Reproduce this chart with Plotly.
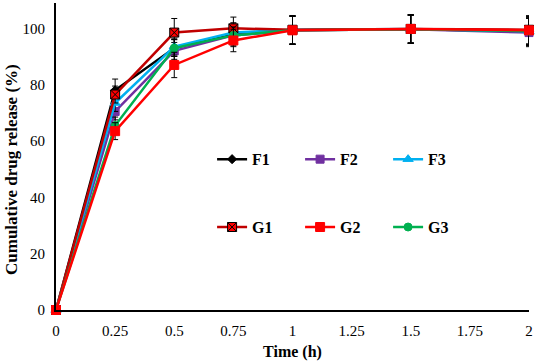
import plotly.graph_objects as go

time_h = [0, 0.25, 0.5, 0.75, 1, 1.5, 2]
series_names = ["F1", "F2", "F3", "G1", "G2", "G3"]
F1 = [0, 78, 93, 98, 99.3, 99.7, 99]
F2 = [0, 70.5, 92, 97.5, 99.3, 99.7, 98.5]
F3 = [0, 73.5, 93.5, 98.5, 99.5, 99.8, 99]
G1 = [0, 76.5, 98.5, 100, 99.5, 99.8, 99.5]
G2 = [0, 63.5, 87, 95.7, 99.3, 99.8, 99.3]
G3 = [0, 65.5, 93, 97.5, 99.3, 99.7, 99]
F1_err = [0, 4, 3, 4, 5, 5, 5]
F2_err = [0, 3, 3, 4, 5, 5, 5]
F3_err = [0, 3, 3, 3, 5, 5, 5]
G1_err = [0, 3, 5, 4, 5, 5, 5]
G2_err = [0, 3, 4.5, 4, 5, 5, 5]
G3_err = [0, 3, 3, 3, 5, 5, 5]

x_ticks = [0, 0.25, 0.5, 0.75, 1, 1.25, 1.5, 1.75, 2]
x_ticklabels = ["0", "0.25", "0.5", "0.75", "1", "1.25", "1.5", "1.75", "2"]
y_ticks = [0, 20, 40, 60, 80, 100]
x_title = "Time (h)"
y_title = "Cumulative drug release (%)"

styles = {
    "F1": dict(color="#000000", symbol="diamond", size=7, lc="#000000", legend="legend", rank=1),
    "F2": dict(color="#7030A0", symbol="square", size=8, lc="#7030A0", legend="legend", rank=2),
    "F3": dict(color="#00B0F0", symbol="triangle-up", size=9, lc="#00B0F0", legend="legend", rank=3),
    "G1": dict(color="#FF0000", symbol="square-x", size=9, lc="#000000", legend="legend2", rank=1),
    "G2": dict(color="#FF0000", symbol="square", size=9, lc="#FF0000", legend="legend2", rank=2),
    "G3": dict(color="#00B050", symbol="circle", size=8, lc="#00B050", legend="legend2", rank=3),
}
line_colors = {"F1": "#000000", "F2": "#7030A0", "F3": "#00B0F0",
               "G1": "#C00000", "G2": "#FF0000", "G3": "#00B050"}
data = {"F1": (F1, F1_err), "F2": (F2, F2_err), "F3": (F3, F3_err),
        "G1": (G1, G1_err), "G2": (G2, G2_err), "G3": (G3, G3_err)}

fig = go.Figure()
for name in ["F1", "F2", "F3", "G1", "G3", "G2"]:
    s = styles[name]
    vals, err = data[name]
    fig.add_trace(go.Scatter(
        x=time_h, y=vals, name="<b>" + name + "</b>", mode="lines+markers",
        line=dict(color=line_colors[name], width=2.5),
        marker=dict(color=s["color"], symbol=s["symbol"], size=s["size"],
                    line=dict(color=s["lc"], width=1)),
        error_y=dict(type="data", array=err, color="#000000", thickness=1, width=3),
        legend=s["legend"], legendrank=s["rank"], cliponaxis=False,
    ))

font_family = "Liberation Serif"
legend_common = dict(orientation="h", xanchor="left", yanchor="middle",
                     bgcolor="rgba(0,0,0,0)", entrywidth=43, entrywidthmode="pixels",
                     itemwidth=30, font=dict(family=font_family, size=16, color="#000000"),
                     tracegroupgap=0)
fig.update_layout(
    width=536, height=362,
    margin=dict(l=56, r=7, t=3, b=52),
    plot_bgcolor="white", paper_bgcolor="white",
    font=dict(family=font_family, color="#000000"),
    showlegend=True,
    legend=dict(x=0.33, y=0.491, **legend_common),
    legend2=dict(x=0.33, y=0.27, **legend_common),
    xaxis=dict(range=[0, 2], tickvals=x_ticks, ticktext=x_ticklabels,
               showgrid=False, zeroline=False, showline=True, linecolor="#000000",
               linewidth=2, ticks="", tickfont=dict(family=font_family, size=15, color="#000000"),
               ticklabelstandoff=6,
               title=dict(text="<b>" + x_title + "</b>", font=dict(family=font_family, size=16), standoff=8),
               tickprefix="<b>", ticksuffix="</b>", automargin=False),
    yaxis=dict(range=[0, 109], tickvals=y_ticks,
               showgrid=False, zeroline=False, showline=True, linecolor="#000000",
               linewidth=2, ticks="", tickfont=dict(family=font_family, size=15, color="#000000"),
               ticklabelstandoff=6,
               tickprefix="<b>", ticksuffix="</b>", automargin=False),
    annotations=[dict(text="<b>" + y_title + "</b>", textangle=-90,
                      xref="paper", yref="paper", x=-45 / 473, y=0.456,
                      xanchor="center", yanchor="middle", showarrow=False,
                      font=dict(family=font_family, size=17, color="#000000"))],
)

fig.write_html("out.html", config={"displayModeBar": False},
               post_script="document.body.style.margin='0';document.body.style.padding='0';")
